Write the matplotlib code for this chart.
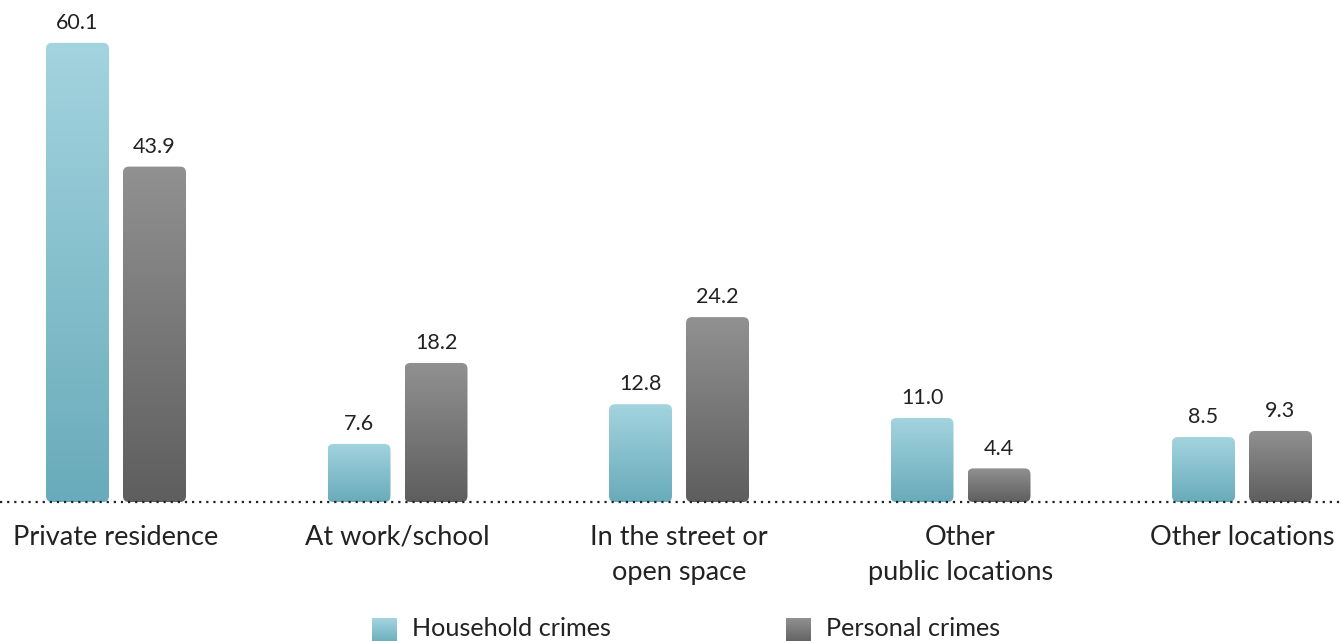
import numpy as np
import matplotlib
matplotlib.use("Agg")
import matplotlib.pyplot as plt
from matplotlib.patches import FancyBboxPatch
from matplotlib.colors import LinearSegmentedColormap

categories = ["Private residence", "At work/school", "In the street or\nopen space",
              "Other\npublic locations", "Other locations"]
household = [60.1, 7.6, 12.8, 11.0, 8.5]
personal = [43.9, 18.2, 24.2, 4.4, 9.3]
series_names = ["Household crimes", "Personal crimes"]

plt.rcParams["font.family"] = ["Lato", "DejaVu Sans"]
TEXT = "#222222"
teal_cmap = LinearSegmentedColormap.from_list("teal", ["#a3d4df", "#69abba"])
grey_cmap = LinearSegmentedColormap.from_list("grey", ["#919191", "#5e5e5e"])

W, H = 1341, 641
fig = plt.figure(figsize=(W / 100, H / 100), dpi=100)
base_px = 502
ax = fig.add_axes([0, (H - base_px) / H, 1, base_px / H])
px_per_unit = 7.64
step = 281.5
ax.set_xlim(-116 / step, (W - 116) / step)
ax.set_ylim(0, base_px / px_per_unit)
ax.axis("off")

x = np.arange(len(categories))
width = 63 / step
off = 38.5 / step
radius_px = 6
aspect = step / px_per_unit


def gradient_bars(bars, cmap):
    grad = np.linspace(0, 1, 256).reshape(-1, 1)
    for b in bars:
        x0, w, h = b.get_x(), b.get_width(), b.get_height()
        b.set_visible(False)
        patch = FancyBboxPatch((x0, 0), w, h,
                               boxstyle=f"round,pad=0,rounding_size={radius_px / step}",
                               mutation_aspect=aspect, facecolor="none",
                               edgecolor="none", transform=ax.transData)
        ax.add_patch(patch)
        im = ax.imshow(grad, cmap=cmap, extent=(x0, x0 + w, 0, h), aspect="auto",
                       origin="upper", zorder=2, interpolation="bicubic")
        im.set_clip_path(patch)
        ax.annotate(f"{h:.1f}", (x0 + w / 2, h), xytext=(0, 7),
                    textcoords="offset points", ha="center", va="bottom",
                    fontsize=15.5, color=TEXT)


b1 = ax.bar(x - off, household, width)
b2 = ax.bar(x + off, personal, width)
gradient_bars(b1, teal_cmap)
gradient_bars(b2, grey_cmap)
ax.set_xlim(-116 / step, (W - 116) / step)
ax.set_ylim(0, base_px / px_per_unit)

# dotted baseline
ax.axhline(0, color="#222222", lw=1.6, ls=(0, (1, 2.2)), clip_on=False, zorder=3)

for xi, lab in zip(x, categories):
    ax.text(xi, -3.0, lab, ha="center", va="top", fontsize=19.5, color=TEXT,
            linespacing=1.5)

# legend with gradient swatches
grad = np.linspace(0, 1, 64).reshape(-1, 1)
for sx, tx, cmap, name in [(372, 412, teal_cmap, series_names[0]),
                           (786, 826, grey_cmap, series_names[1])]:
    sax = fig.add_axes([sx / W, (H - 644) / H, 25 / W, 26 / H])
    sax.imshow(grad, cmap=cmap, aspect="auto")
    sax.axis("off")
    fig.text(tx / W, (H - 629) / H, name, ha="left", va="center",
             fontsize=18.2, color=TEXT)

fig.savefig("out.png", dpi=100, facecolor="white")
